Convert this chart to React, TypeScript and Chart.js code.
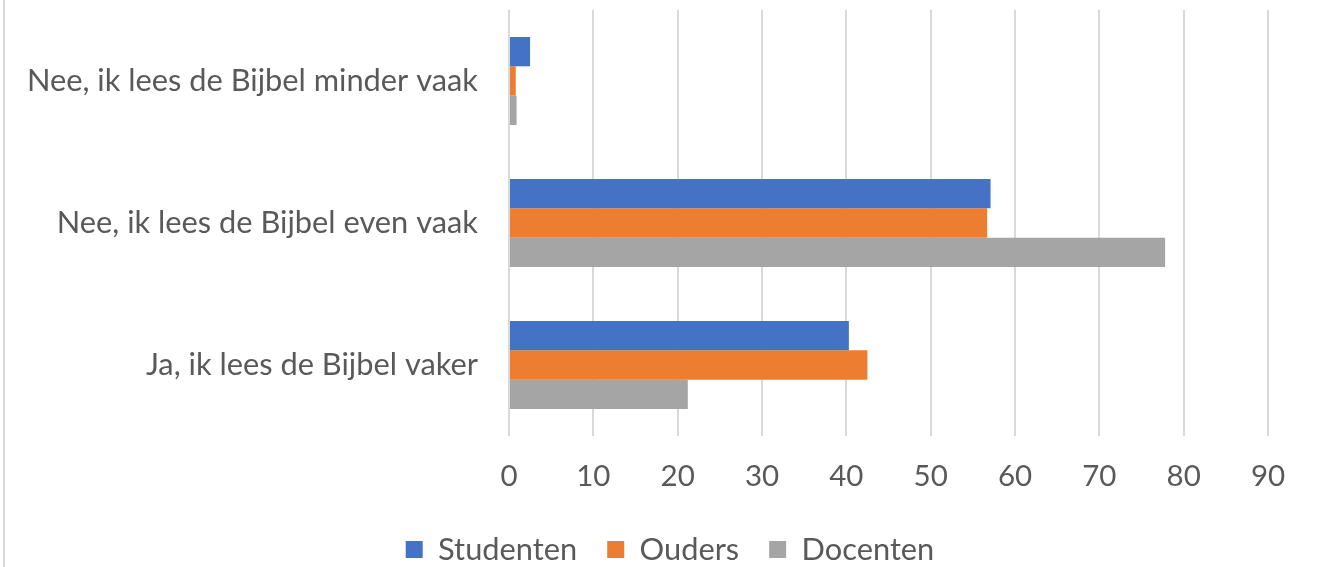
import React, { useEffect, useRef } from "react";
import { Chart, registerables } from "chart.js";

Chart.register(...registerables);

const categories = [
  "Nee, ik lees de Bijbel minder vaak",
  "Nee, ik lees de Bijbel even vaak",
  "Ja, ik lees de Bijbel vaker",
];
const studenten = [2.5, 57.1, 40.3];
const ouders = [0.8, 56.7, 42.5];
const docenten = [0.9, 77.8, 21.2];
const xTicks = [0, 10, 20, 30, 40, 50, 60, 70, 80, 90];

const FONT = "Lato";
const SIZE = 29.5;
const LABEL_SIZE = 30.8;
const TEXT = "#595959";

const legendShift = {
  id: "legendShift",
  afterLayout(chart: any) {
    if (chart.legend) {
      chart.legend.left += 36;
      chart.legend.right += 36;
    }
  },
};

export default function App() {
  const ref = useRef<HTMLCanvasElement | null>(null);
  useEffect(() => {
    if (!ref.current) return;
    const chart = new Chart(ref.current, {
      type: "bar",
      data: {
        labels: categories,
        datasets: [
          { label: "Studenten", data: studenten, backgroundColor: "#4472C4" },
          { label: "Ouders", data: ouders, backgroundColor: "#ED7D31" },
          { label: "Docenten", data: docenten, backgroundColor: "#A5A5A5" },
        ],
      },
      plugins: [legendShift],
      options: {
        indexAxis: "y",
        animation: false,
        responsive: true,
        maintainAspectRatio: false,
        datasets: { bar: { categoryPercentage: 0.62, barPercentage: 1 } },
        layout: { padding: { top: 10, right: 51, left: 0, bottom: -8 } },
        scales: {
          x: {
            min: xTicks[0],
            max: xTicks[xTicks.length - 1],
            afterBuildTicks: (s: any) => {
              s.ticks = xTicks.map((v) => ({ value: v }));
            },
            afterFit: (s: any) => {
              s.height = 68.2;
              s.paddingLeft = 0;
              s.paddingRight = 0;
            },
            grid: { color: "#d9d9d9", lineWidth: 2, drawTicks: false },
            border: { display: false },
            ticks: { color: TEXT, font: { family: FONT, size: SIZE }, padding: 23 },
          },
          y: {
            afterFit: (s: any) => {
              s.width = 509;
              s.paddingTop = 0;
              s.paddingBottom = 0;
            },
            grid: { display: false, drawTicks: false },
            border: { display: false },
            ticks: { color: TEXT, font: { family: FONT, size: LABEL_SIZE }, padding: 31 },
          },
        },
        plugins: {
          legend: {
            position: "bottom",
            labels: {
              color: TEXT,
              font: { family: FONT, size: LABEL_SIZE },
              boxWidth: 17,
              boxHeight: 17,
              padding: 30,
            },
          },
          tooltip: { enabled: false },
        },
      },
    });
    return () => chart.destroy();
  }, []);
  return (
    <div style={{ position: "fixed", left: 0, top: 0, width: 1319, height: 567, background: "#fff", overflow: "hidden" }}>
      <div style={{ position: "absolute", left: 3, top: 0, width: 2, height: 567, background: "#d9d9d9" }} />
      <canvas ref={ref} />
    </div>
  );
}
